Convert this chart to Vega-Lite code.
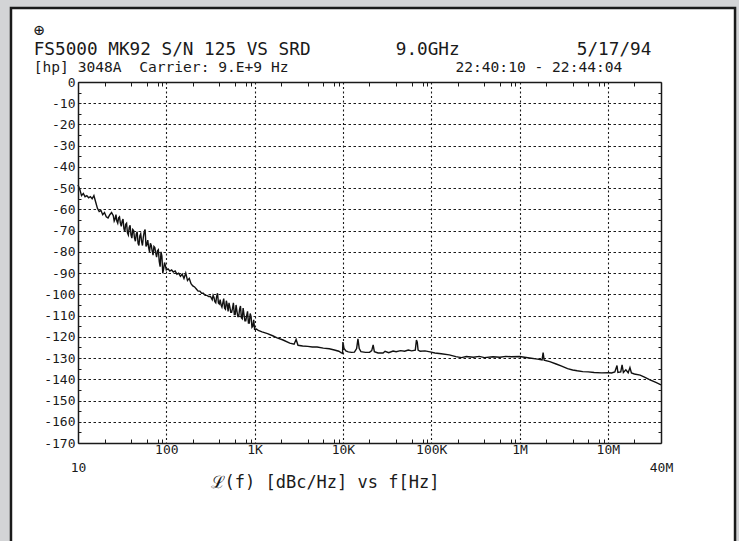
{
  "$schema": "https://vega.github.io/schema/vega-lite/v6.json",
  "width": 583,
  "height": 361,
  "autosize": "none",
  "padding": {"left": 78, "top": 82, "right": 78, "bottom": 98},
  "background": "#d3d4d6",
  "config": {"view": {"stroke": null}, "font": "DejaVu Sans Mono"},
  "title": {
    "text": ["⊕", "\u00a0\u00a0FS5000 MK92 S/N 125 VS SRD\u00a0\u00a0\u00a0\u00a0\u00a0\u00a0\u00a0\u00a09.0GHz\u00a0\u00a0\u00a0\u00a0\u00a0\u00a0\u00a0\u00a0\u00a0\u00a0\u00a05/17/94"],
    "subtitle": "\u00a0\u00a0\u00a0\u00a0[hp] 3048A\u00a0\u00a0Carrier: 9.E+9 Hz\u00a0\u00a0\u00a0\u00a0\u00a0\u00a0\u00a0\u00a0\u00a0\u00a0\u00a0\u00a0\u00a0\u00a0\u00a0\u00a0\u00a0\u00a0\u00a022:40:10 - 22:44:04",
    "anchor": "start",
    "frame": "group",
    "dx": -44.3,
    "offset": -68,
    "font": "DejaVu Sans Mono",
    "fontSize": 17.7,
    "fontWeight": "normal",
    "color": "#1a1a1a",
    "lineHeight": 19,
    "subtitleFont": "DejaVu Sans Mono",
    "subtitleFontSize": 14.6,
    "subtitleColor": "#1a1a1a",
    "subtitlePadding": 1.5,
    "subtitleLineHeight": 16
  },
  "datasets": {
    "pn": [
      {"f": 10, "db": -48.5}, {"f": 10.47, "db": -50.5}, {"f": 10.96, "db": -53.5}, {"f": 11.48, "db": -52.5},
      {"f": 12.02, "db": -54}, {"f": 12.59, "db": -53.5}, {"f": 13.18, "db": -54.5}, {"f": 13.8, "db": -54},
      {"f": 14.45, "db": -55}, {"f": 15.14, "db": -53.5}, {"f": 15.85, "db": -56.5}, {"f": 16.6, "db": -59.5},
      {"f": 17.38, "db": -61}, {"f": 18.2, "db": -60.5}, {"f": 19.05, "db": -62.5}, {"f": 19.95, "db": -61.5},
      {"f": 20.89, "db": -63.5}, {"f": 21.88, "db": -64}, {"f": 22.91, "db": -62.5}, {"f": 23.99, "db": -61.5},
      {"f": 25.12, "db": -63}, {"f": 25.7, "db": -65.5}, {"f": 26.3, "db": -64.5}, {"f": 26.91, "db": -62.5},
      {"f": 27.54, "db": -65.5}, {"f": 28.18, "db": -66.5}, {"f": 28.84, "db": -64}, {"f": 29.51, "db": -63.5},
      {"f": 30.2, "db": -66.5}, {"f": 30.9, "db": -68}, {"f": 31.62, "db": -65.5}, {"f": 32.36, "db": -64.5},
      {"f": 33.11, "db": -69}, {"f": 33.88, "db": -70.5}, {"f": 34.67, "db": -67}, {"f": 35.48, "db": -66.5},
      {"f": 36.31, "db": -71}, {"f": 37.15, "db": -72}, {"f": 38.02, "db": -68.5}, {"f": 38.9, "db": -67.5},
      {"f": 39.81, "db": -72}, {"f": 40.74, "db": -73.5}, {"f": 41.69, "db": -69.5}, {"f": 42.66, "db": -70},
      {"f": 43.65, "db": -73.5}, {"f": 44.67, "db": -75}, {"f": 45.71, "db": -71.5}, {"f": 46.77, "db": -70.5},
      {"f": 47.86, "db": -76}, {"f": 48.98, "db": -77}, {"f": 50.12, "db": -72.5}, {"f": 51.29, "db": -71.5},
      {"f": 52.48, "db": -75}, {"f": 53.7, "db": -77}, {"f": 54.95, "db": -73}, {"f": 56.23, "db": -70.5},
      {"f": 57.54, "db": -69.5}, {"f": 58.88, "db": -77.5}, {"f": 60.26, "db": -76.5}, {"f": 61.66, "db": -74.5},
      {"f": 63.1, "db": -78}, {"f": 64.57, "db": -80}, {"f": 66.07, "db": -76}, {"f": 67.61, "db": -77},
      {"f": 69.18, "db": -79.5}, {"f": 70.79, "db": -81.5}, {"f": 72.44, "db": -77.5}, {"f": 74.13, "db": -78},
      {"f": 75.86, "db": -80.5}, {"f": 77.62, "db": -82.5}, {"f": 79.43, "db": -79.5}, {"f": 81.28, "db": -79},
      {"f": 83.18, "db": -84.5}, {"f": 85.11, "db": -87}, {"f": 87.1, "db": -80}, {"f": 89.13, "db": -82},
      {"f": 91.2, "db": -90}, {"f": 93.33, "db": -88}, {"f": 95.5, "db": -85}, {"f": 97.72, "db": -86.5},
      {"f": 100, "db": -88.5},
      {"f": 104.7, "db": -88}, {"f": 109.6, "db": -89}, {"f": 114.8, "db": -88.5}, {"f": 120.2, "db": -89.5},
      {"f": 125.9, "db": -89}, {"f": 131.8, "db": -90.5}, {"f": 138, "db": -90}, {"f": 144.5, "db": -91.5},
      {"f": 151.4, "db": -90.5}, {"f": 158.5, "db": -92.5}, {"f": 166, "db": -90}, {"f": 173.8, "db": -93.5},
      {"f": 182, "db": -92.5}, {"f": 190.5, "db": -95}, {"f": 199.5, "db": -96}, {"f": 208.9, "db": -96.5},
      {"f": 218.8, "db": -97.5}, {"f": 229.1, "db": -98.5}, {"f": 239.9, "db": -98.5}, {"f": 251.2, "db": -99.5},
      {"f": 263, "db": -99.5}, {"f": 275.4, "db": -100.5}, {"f": 288.4, "db": -100.5}, {"f": 302, "db": -101},
      {"f": 316.2, "db": -101}, {"f": 331.1, "db": -102.5}, {"f": 338.8, "db": -100.5}, {"f": 346.7, "db": -101.5},
      {"f": 354.8, "db": -103.5}, {"f": 363.1, "db": -104}, {"f": 371.5, "db": -101}, {"f": 380.2, "db": -99.5},
      {"f": 389, "db": -104}, {"f": 398.1, "db": -104.5}, {"f": 407.4, "db": -102.5}, {"f": 416.9, "db": -105},
      {"f": 426.6, "db": -106}, {"f": 436.5, "db": -104}, {"f": 446.7, "db": -102}, {"f": 457.1, "db": -106.5},
      {"f": 467.7, "db": -107}, {"f": 478.6, "db": -103}, {"f": 489.8, "db": -105}, {"f": 501.2, "db": -108},
      {"f": 512.9, "db": -104}, {"f": 524.8, "db": -106}, {"f": 537, "db": -108.5}, {"f": 549.5, "db": -108.5},
      {"f": 562.3, "db": -106.5}, {"f": 575.4, "db": -104}, {"f": 588.8, "db": -109.5}, {"f": 602.6, "db": -109.5},
      {"f": 616.6, "db": -105}, {"f": 631, "db": -108}, {"f": 645.7, "db": -110.5}, {"f": 660.7, "db": -110.5},
      {"f": 676.1, "db": -107}, {"f": 691.8, "db": -105.5}, {"f": 707.9, "db": -111}, {"f": 724.4, "db": -111.5},
      {"f": 741.3, "db": -106.5}, {"f": 758.6, "db": -109.5}, {"f": 776.2, "db": -112.5}, {"f": 794.3, "db": -112.5},
      {"f": 812.8, "db": -110}, {"f": 831.8, "db": -108}, {"f": 851.1, "db": -113.5}, {"f": 871, "db": -113.5},
      {"f": 891.3, "db": -109}, {"f": 912, "db": -110.5}, {"f": 933.3, "db": -115.5}, {"f": 955, "db": -115},
      {"f": 977.2, "db": -112}, {"f": 1000, "db": -116.5},
      {"f": 1050, "db": -116.3}, {"f": 1100, "db": -117}, {"f": 1213, "db": -117.7}, {"f": 1400, "db": -118.5},
      {"f": 1600, "db": -119.5}, {"f": 1800, "db": -120.5}, {"f": 2100, "db": -121.5}, {"f": 2500, "db": -123},
      {"f": 2800, "db": -123.5}, {"f": 2950, "db": -121.3}, {"f": 3100, "db": -124}, {"f": 3500, "db": -124.3},
      {"f": 4000, "db": -124.5}, {"f": 4500, "db": -124.8}, {"f": 5100, "db": -124.8}, {"f": 6000, "db": -125.3},
      {"f": 7000, "db": -125.6}, {"f": 8000, "db": -126.2}, {"f": 9000, "db": -126.8}, {"f": 9500, "db": -127.4},
      {"f": 9900, "db": -127.8}, {"f": 10000, "db": -122.5}, {"f": 10300, "db": -125.5}, {"f": 10800, "db": -126.6},
      {"f": 11500, "db": -127.1}, {"f": 12500, "db": -127.3}, {"f": 13500, "db": -127.2}, {"f": 14300, "db": -125.5},
      {"f": 14800, "db": -121}, {"f": 15300, "db": -125.5}, {"f": 16000, "db": -127}, {"f": 18000, "db": -127.3},
      {"f": 20000, "db": -127.3}, {"f": 21200, "db": -126.5}, {"f": 22000, "db": -123.8}, {"f": 22700, "db": -127},
      {"f": 25000, "db": -127.6}, {"f": 28500, "db": -127.6}, {"f": 30000, "db": -126.8}, {"f": 33000, "db": -127.5},
      {"f": 37000, "db": -126.7}, {"f": 40000, "db": -127}, {"f": 45000, "db": -126.5}, {"f": 50000, "db": -126.8},
      {"f": 55000, "db": -126.2}, {"f": 60000, "db": -126.6}, {"f": 66000, "db": -126.3}, {"f": 68000, "db": -121.5},
      {"f": 69500, "db": -122.5}, {"f": 71000, "db": -126.2}, {"f": 75000, "db": -126.8}, {"f": 85000, "db": -126.6},
      {"f": 97000, "db": -127.1}, {"f": 110000, "db": -127.6}, {"f": 130000, "db": -128}, {"f": 160000, "db": -128.5},
      {"f": 190000, "db": -129.3}, {"f": 220000, "db": -129.8}, {"f": 250000, "db": -129.3}, {"f": 300000, "db": -129.6},
      {"f": 350000, "db": -129.2}, {"f": 400000, "db": -129.8}, {"f": 500000, "db": -129.4}, {"f": 600000, "db": -129.6},
      {"f": 700000, "db": -129.2}, {"f": 800000, "db": -129.4}, {"f": 1000000, "db": -129.3}, {"f": 1300000, "db": -130},
      {"f": 1600000, "db": -130.5}, {"f": 1800000, "db": -130.9}, {"f": 1850000, "db": -127.4}, {"f": 1900000, "db": -131},
      {"f": 2200000, "db": -131.7}, {"f": 2600000, "db": -132.8}, {"f": 3000000, "db": -133.8}, {"f": 3500000, "db": -135},
      {"f": 4000000, "db": -135.6}, {"f": 4500000, "db": -136}, {"f": 5200000, "db": -136.4}, {"f": 6000000, "db": -136.5},
      {"f": 7000000, "db": -136.8}, {"f": 8500000, "db": -137}, {"f": 10300000, "db": -136.9}, {"f": 11000000, "db": -137},
      {"f": 12000000, "db": -136.5}, {"f": 12700000, "db": -133.5}, {"f": 13000000, "db": -136.8}, {"f": 14000000, "db": -136.5},
      {"f": 14500000, "db": -133.2}, {"f": 15000000, "db": -136.8}, {"f": 16000000, "db": -135.5}, {"f": 17000000, "db": -136.9},
      {"f": 17800000, "db": -134.5}, {"f": 18500000, "db": -137}, {"f": 20000000, "db": -137.5}, {"f": 23200000, "db": -138},
      {"f": 26000000, "db": -139}, {"f": 30000000, "db": -140.3}, {"f": 35000000, "db": -141.5}, {"f": 40000000, "db": -142.6}
    ]
  },
  "resolve": {"axis": {"x": "independent", "y": "independent"}},
  "layer": [
    {
      "data": {"values": [{}]},
      "mark": {"type": "rect", "fill": "white", "stroke": "#1a1a1a", "strokeWidth": 2.5, "clip": false},
      "encoding": {
        "x": {
          "datum": 1.742, "type": "quantitative",
          "scale": {"type": "log", "domain": [10, 40000000], "nice": false},
          "axis": {
            "orient": "top", "zindex": 2, "title": null, "labels": false, "grid": false,
            "values": [20,40,60,80,90,200,400,600,800,900,2000,4000,6000,8000,9000,20000,40000,60000,80000,90000,200000,400000,600000,800000,900000,2000000,4000000,6000000,8000000,9000000,20000000],
            "ticks": true, "tickSize": -4, "tickColor": "#1a1a1a", "tickWidth": 1,
            "domain": true, "domainColor": "#1a1a1a", "domainWidth": 1.5
          }
        },
        "x2": {"datum": 275700000},
        "y": {
          "datum": 34.85, "type": "quantitative",
          "scale": {"domain": [-170, 0], "nice": false, "zero": false},
          "axis": {
            "orient": "right", "zindex": 2, "title": null, "labels": false, "grid": false,
            "values": [-170,-165,-160,-155,-150,-145,-140,-135,-130,-125,-120,-115,-110,-105,-100,-95,-90,-85,-80,-75,-70,-65,-60,-55,-50,-45,-40,-35,-30,-25,-20,-15,-10,-5,0],
            "ticks": true, "tickSize": -3, "tickColor": "#1a1a1a", "tickWidth": 1,
            "domain": true, "domainColor": "#1a1a1a", "domainWidth": 1.5
          }
        },
        "y2": {"datum": -225}
      }
    },
    {
      "data": {"name": "pn"},
      "mark": {"type": "line", "stroke": "#111111", "strokeWidth": 1.4},
      "encoding": {
        "x": {
          "field": "f", "type": "quantitative",
          "scale": {"type": "log", "domain": [10, 40000000], "nice": false},
          "axis": {
            "orient": "bottom", "zindex": 2,
            "values": [10,20,40,60,80,90,100,200,400,600,800,900,1000,2000,4000,6000,8000,9000,10000,20000,40000,60000,80000,90000,100000,200000,400000,600000,800000,900000,1000000,2000000,4000000,6000000,8000000,9000000,10000000,20000000,40000000],
            "labelExpr": "datum.value == 10 ? '10' : datum.value == 100 ? '100' : datum.value == 1000 ? '1K' : datum.value == 10000 ? '10K' : datum.value == 100000 ? '100K' : datum.value == 1000000 ? '1M' : datum.value == 10000000 ? '10M' : datum.value == 40000000 ? '40M' : ''",
            "labelOverlap": false, "labelFlush": false, "labelBound": false,
            "labelFont": "DejaVu Sans Mono", "labelFontSize": 13, "labelColor": "#1a1a1a",
            "labelPadding": {"condition": {"test": "datum.value == 10 || datum.value == 40000000", "value": 22}, "value": 4},
            "ticks": true, "tickSize": -4, "tickColor": "#1a1a1a", "tickWidth": 1,
            "tickOpacity": {"condition": {"test": "indexof([10,100,1000,10000,100000,1000000,10000000,40000000], datum.value) >= 0", "value": 0}, "value": 1},
            "grid": true, "gridColor": "#1a1a1a", "gridDash": [2, 2.5], "gridWidth": 1.1,
            "gridOpacity": {"condition": {"test": "indexof([100,1000,10000,100000,1000000,10000000], datum.value) >= 0", "value": 1}, "value": 0},
            "domain": true, "domainColor": "#1a1a1a", "domainWidth": 1.5,
            "title": "ℒ(f) [dBc/Hz] vs f[Hz]",
            "titleFont": "DejaVu Sans Mono", "titleFontSize": 17, "titleFontWeight": "normal", "titleColor": "#1a1a1a",
            "titleX": 132, "titleY": 44, "titleAlign": "left", "titleBaseline": "alphabetic", "titleAnchor": "start"
          }
        },
        "y": {
          "field": "db", "type": "quantitative",
          "scale": {"domain": [-170, 0], "nice": false, "zero": false},
          "axis": {
            "orient": "left", "zindex": 2, "title": null,
            "values": [-170,-165,-160,-155,-150,-145,-140,-135,-130,-125,-120,-115,-110,-105,-100,-95,-90,-85,-80,-75,-70,-65,-60,-55,-50,-45,-40,-35,-30,-25,-20,-15,-10,-5,0],
            "labelExpr": "datum.value % 10 == 0 ? '' + datum.value : ''",
            "labelOverlap": false, "labelFlush": false, "labelBound": false,
            "labelFont": "DejaVu Sans Mono", "labelFontSize": 13, "labelColor": "#1a1a1a",
            "labelPadding": 6,
            "ticks": true, "tickSize": -3, "tickColor": "#1a1a1a", "tickWidth": 1,
            "grid": true, "gridColor": "#1a1a1a", "gridDash": [2.5, 2.5], "gridWidth": 1.1,
            "gridOpacity": {"condition": {"test": "datum.value % 10 == 0", "value": 1}, "value": 0},
            "domain": true, "domainColor": "#1a1a1a", "domainWidth": 1.5
          }
        }
      }
    }
  ]
}
